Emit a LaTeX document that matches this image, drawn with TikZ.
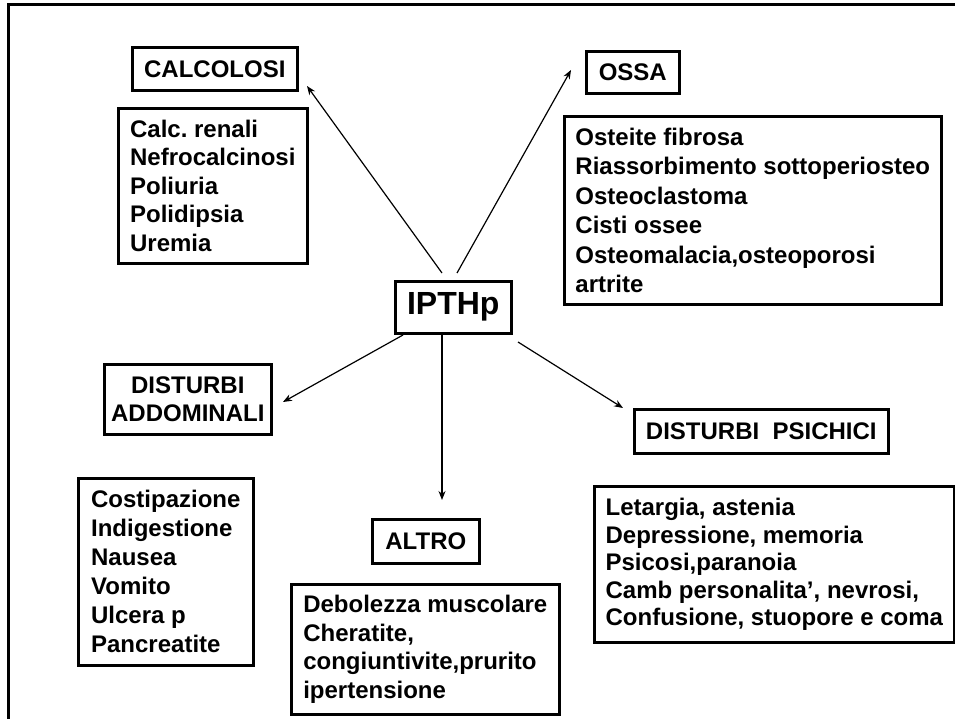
\documentclass[tikz,border=0pt]{standalone}
\usepackage{fontspec}
\setmainfont{Liberation Sans}
\frenchspacing
\usetikzlibrary{arrows.meta}

\begin{document}
\begin{tikzpicture}[x=1pt,y=-1pt,>={Stealth[length=9pt,width=7pt]},
	       box/.style={draw, line width=2.6pt, anchor=north west, inner sep=0pt, font=\bfseries\fontsize{24}{28.5}\selectfont},
	       title/.style={box, align=center},
	       list/.style={box, align=left},
	       link/.style={->, line width=1.2pt}]

	      \useasboundingbox (0,0) rectangle (955,719);
	      % frame
	      \draw[line width=3pt] (955,5) -- (8,5) -- (8,719);

	      \node[title, minimum width=116pt, minimum height=52pt, font=\bfseries\fontsize{32}{36}\selectfont] at (394,280) (ipth) {IPTHp};

	      \node[title, minimum width=165pt, minimum height=43pt] at (131,46) (calc) {CALCOLOSI};
	      \node[list, minimum width=189pt, minimum height=155pt] at (117,107) (calclist) {Calc. renali\\ Nefrocalcinosi\\ Poliuria\\ Polidipsia\\ Uremia};

	      \node[title, minimum width=93pt, minimum height=42pt] at (585,50) (ossa) {OSSA};
	      \node[list, minimum width=377pt, minimum height=188pt, font=\bfseries\fontsize{24}{29.5}\selectfont] at (563,115) (ossalist) {Osteite fibrosa\\ Riassorbimento sottoperiosteo\\ Osteoclastoma\\ Cisti ossee\\ Osteomalacia,osteoporosi\\ artrite};

	      \node[title, minimum width=167pt, minimum height=70pt] at (103,363) (addom) {DISTURBI\\ ADDOMINALI};
	      \node[list, minimum width=175pt, minimum height=187pt, font=\bfseries\fontsize{24}{29}\selectfont] at (77,477) (addomlist) {Costipazione\\ Indigestione\\ Nausea\\ Vomito\\ Ulcera p\\ Pancreatite};

	      \node[title, minimum width=107pt, minimum height=44pt] at (371,518) (altro) {ALTRO};
	      \node[list, minimum width=268pt, minimum height=130pt] at (290,583) (altrolist) {Debolezza muscolare\\ Cheratite,\\ congiuntivite,prurito\\ ipertensione};

	      \node[title, minimum width=254pt, minimum height=44pt] at (633,408) (psic) {DISTURBI\ \ PSICHICI};
	      \node[list, minimum width=360pt, minimum height=156pt, font=\bfseries\fontsize{24}{27.5}\selectfont] at (593,485) (psiclist) {Letargia, astenia\\ Depressione, memoria\\ Psicosi,paranoia\\ Camb personalita', nevrosi,\\ Confusione, stuopore e coma};

	      \coordinate (s1) at (442,273);
	      \coordinate (e1) at (307,86);
	      \coordinate (s2) at (457,273);
	      \coordinate (e2) at (571,70);
	      \coordinate (s3) at (403,335);
	      \coordinate (e3) at (283,402);
	      \coordinate (s4) at (442,334);
	      \coordinate (e4) at (442,500);
	      \coordinate (s5) at (518,342);
	      \coordinate (e5) at (623,408);

	      \path
	      (s1) edge [link] (e1)
	      (s2) edge [link] (e2)
	      (s3) edge [link] (e3)
	      (s4) edge [link] (e4)
	      (s5) edge [link] (e5)
	      ;

	    \end{tikzpicture}
\end{document}
